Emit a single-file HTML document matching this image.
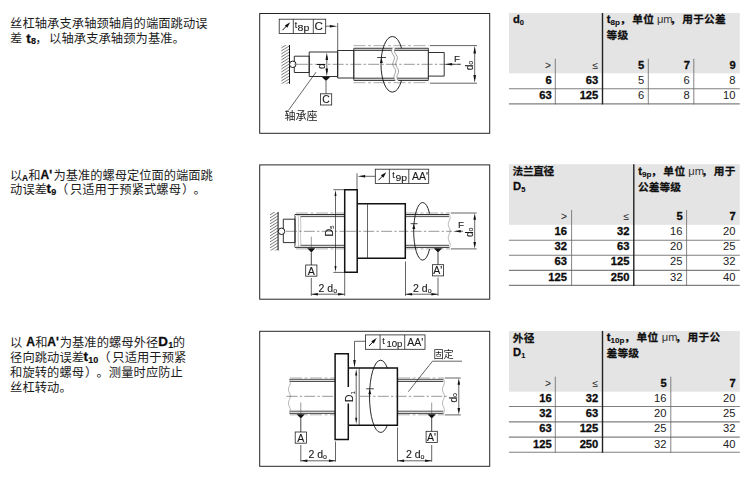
<!DOCTYPE html>
<html lang="zh"><head><meta charset="utf-8"><title>Runout tolerances</title>
<style>
html,body{margin:0;padding:0;background:#fff}
body{width:750px;height:481px;position:relative;overflow:hidden;font-family:"Liberation Sans",sans-serif;color:#1c1c1c}
svg{display:block}
.ln{position:absolute;left:0;width:250px;height:12.25px;white-space:nowrap}
.c{position:absolute;top:.4px;font:12.25px/12.25px "Liberation Sans","Noto Sans CJK SC",sans-serif;color:#1c1c1c;white-space:nowrap;letter-spacing:.1px}
.hb{position:absolute;font:bold 10.7px/10.7px "Liberation Sans","Noto Sans CJK SC",sans-serif;color:#101010;white-space:nowrap;-webkit-text-stroke:.25px #101010}
.lb{position:absolute;top:-1.2px;font:bold 12px/14px "Liberation Sans",sans-serif;color:#0c0c0c;white-space:nowrap;-webkit-text-stroke:.3px #0c0c0c}
.lb b{font-size:13.4px;line-height:0}
.lb sub{font-size:9px;line-height:0;vertical-align:-1.6px;margin-left:.3px;-webkit-text-stroke:.15px #0c0c0c}
.lb sub.sa{font-size:8.4px;vertical-align:-2.2px;margin-left:0}
.tbl{position:absolute;left:0;top:0;width:750px;height:481px}
.r{position:absolute}
.n{position:absolute;font:11.2px/13px "Liberation Sans",sans-serif;color:#222;white-space:nowrap;text-align:right}
.sy{font-size:10.2px}
.nb{font-weight:bold;color:#0c0c0c;-webkit-text-stroke:.3px #0c0c0c}
.th{position:absolute;font:bold 11.2px/13px "Liberation Sans",sans-serif;color:#0c0c0c;white-space:nowrap;-webkit-text-stroke:.3px #0c0c0c}
.th sub.w{font-size:8.1px}
.th sub{font-size:7.5px;line-height:0;vertical-align:-1.7px;-webkit-text-stroke:.1px #0c0c0c}
.tu{position:absolute;font:11.2px/13px "Liberation Sans",sans-serif;color:#333;white-space:nowrap}
.tg{position:absolute;left:0;top:0;width:750px;height:481px}
.dg{position:absolute;left:0;top:0;width:750px;height:481px;overflow:visible;will-change:transform}
.dg text{font-family:"Liberation Sans",sans-serif;fill:#1a1a1a;stroke:#1a1a1a;stroke-width:.12px}
.dg text.cj{font-family:"Liberation Sans","Noto Sans CJK SC",sans-serif;stroke-width:0}
</style></head>
<body>
<div class="ln" style="top:17.76px"><span class="c" style="left:10.05px">丝杠轴承支承轴颈轴肩的端面跳动误</span></div>
<div class="ln" style="top:32.76px"><span class="c" style="left:10.05px">差</span><span class="lb" style="left:26.30px"><b>t</b><sub>8</sub></span><span class="c" style="left:35.34px">，</span><span class="c" style="left:49.10px">以轴承支承轴颈为基准。</span></div>
<div class="ln" style="top:169.16px"><span class="c" style="left:10.05px">以</span><span class="lb" style="left:22.00px"><sub class="sa">A</sub></span><span class="c" style="left:28.35px">和</span><span class="lb" style="left:40.60px">A'</span><span class="c" style="left:53.60px;letter-spacing:0">为基准的螺母定位面的端面跳</span></div>
<div class="ln" style="top:183.66px"><span class="c" style="left:10.05px">动误差</span><span class="lb" style="left:46.40px"><b>t</b><sub>9</sub></span><span class="c" style="left:55.96px">（</span><span class="c" style="left:69.90px">只适用于预紧式螺母</span><span class="c" style="left:181.91px">）</span><span class="c" style="left:193.40px">。</span></div>
<div class="ln" style="top:336.36px"><span class="c" style="left:10.05px">以</span><span class="lb" style="left:26.20px">A</span><span class="c" style="left:35.25px">和</span><span class="lb" style="left:47.30px">A'</span><span class="c" style="left:59.73px;letter-spacing:.07px">为基准的螺母外径</span><span class="lb" style="left:158.20px"><b>D</b><sub>1</sub></span><span class="c" style="left:172.75px">的</span></div>
<div class="ln" style="top:351.46px"><span class="c" style="left:10.05px">径向跳动误差</span><span class="lb" style="left:83.60px"><b>t</b><sub>10</sub></span><span class="c" style="left:98.36px">（</span><span class="c" style="left:112.30px">只适用于预紧</span></div>
<div class="ln" style="top:366.66px"><span class="c" style="left:10.05px">和旋转的螺母</span><span class="c" style="left:85.01px">）</span><span class="c" style="left:96.50px">。测量时应防止</span></div>
<div class="ln" style="top:381.86px"><span class="c" style="left:10.05px">丝杠转动。</span></div>

<svg class="tg" viewBox="0 0 750 481" fill="none"><rect x="508.90" y="13.00" width="230.90" height="60.30" fill="#e4e4e4"/><path d="M508.90 88.80H739.80" stroke="#808080" stroke-width="1.10"/><path d="M508.90 103.90H739.80" stroke="#808080" stroke-width="1.10"/><path d="M555.30 58.70V104.40" stroke="#666" stroke-width="0.80"/><path d="M648.30 58.70V104.40" stroke="#666" stroke-width="0.80"/><path d="M693.80 58.70V104.40" stroke="#666" stroke-width="0.80"/><path d="M602.50 13.00V104.40" stroke="#222" stroke-width="1.40"/><rect x="508.90" y="164.20" width="230.90" height="60.60" fill="#e4e4e4"/><path d="M508.90 240.30H739.80" stroke="#808080" stroke-width="1.10"/><path d="M508.90 255.30H739.80" stroke="#808080" stroke-width="1.10"/><path d="M508.90 270.40H739.80" stroke="#808080" stroke-width="1.10"/><path d="M508.90 285.40H739.80" stroke="#808080" stroke-width="1.10"/><path d="M571.60 210.00V285.90" stroke="#666" stroke-width="0.80"/><path d="M686.60 210.00V285.90" stroke="#666" stroke-width="0.80"/><path d="M633.80 164.20V285.90" stroke="#222" stroke-width="1.40"/><rect x="508.90" y="330.90" width="230.90" height="60.80" fill="#e4e4e4"/><path d="M508.90 406.50H739.80" stroke="#808080" stroke-width="1.10"/><path d="M508.90 421.90H739.80" stroke="#808080" stroke-width="1.10"/><path d="M508.90 437.10H739.80" stroke="#808080" stroke-width="1.10"/><path d="M508.90 452.30H739.80" stroke="#808080" stroke-width="1.10"/><path d="M555.30 376.70V452.80" stroke="#666" stroke-width="0.80"/><path d="M670.80 376.70V452.80" stroke="#666" stroke-width="0.80"/><path d="M602.50 330.90V452.80" stroke="#222" stroke-width="1.40"/></svg>
<div class="tbl"><div class="th" style="left:513.00px;top:12.92px">d<sub>0</sub></div><div class="th" style="left:606.80px;top:12.82px">t<sub class="w">8p</sub></div><span><span class="hb" style="left:619.92px;top:14.2px">，</span><span class="hb" style="left:632.15px;top:14.2px;letter-spacing:.3px">单位</span></span><div class="tu" style="left:656.90px;top:12.82px">μm</div><span><span class="hb" style="left:669.92px;top:14.2px">，</span><span class="hb" style="left:682.15px;top:14.2px;letter-spacing:.3px">用于公差</span></span><span><span class="hb" style="left:606.60px;top:29.5px;letter-spacing:.2px">等级</span></span><div class="n sy" style="right:199.00px;top:58.62px">&gt;</div><div class="n sy" style="right:152.00px;top:58.62px">≤</div><div class="n nb" style="right:105.80px;top:58.62px">5</div><div class="n nb" style="right:60.00px;top:58.62px">7</div><div class="n nb" style="right:14.40px;top:58.62px">9</div><div class="n nb" style="right:198.40px;top:73.62px">6</div><div class="n nb" style="right:151.70px;top:73.62px">63</div><div class="n" style="right:105.90px;top:73.62px">5</div><div class="n" style="right:60.20px;top:73.62px">6</div><div class="n" style="right:14.50px;top:73.62px">8</div><div class="n nb" style="right:198.40px;top:88.62px">63</div><div class="n nb" style="right:151.70px;top:88.62px">125</div><div class="n" style="right:105.90px;top:88.62px">6</div><div class="n" style="right:60.20px;top:88.62px">8</div><div class="n" style="right:14.50px;top:88.62px">10</div></div>
<div class="tbl"><span><span class="hb" style="left:512.58px;top:166.3px;letter-spacing:-.35px">法兰直径</span></span><div class="th" style="left:513.10px;top:179.62px">D<sub>5</sub></div><div class="th" style="left:638.20px;top:164.52px">t<sub class="w">9p</sub></div><span><span class="hb" style="left:650.97px;top:166.2px">，</span><span class="hb" style="left:663.30px;top:166.2px;letter-spacing:.4px">单位</span></span><div class="tu" style="left:688.20px;top:164.52px">μm</div><span><span class="hb" style="left:701.52px;top:166.2px">，</span><span class="hb" style="left:713.75px;top:166.2px;letter-spacing:.3px">用于</span></span><span><span class="hb" style="left:638.09px;top:181.5px">公差等级</span></span><div class="n sy" style="right:183.00px;top:209.62px">&gt;</div><div class="n sy" style="right:120.80px;top:209.62px">≤</div><div class="n nb" style="right:67.40px;top:209.62px">5</div><div class="n nb" style="right:14.40px;top:209.62px">7</div><div class="n nb" style="right:183.00px;top:224.62px">16</div><div class="n nb" style="right:120.60px;top:224.62px">32</div><div class="n" style="right:67.60px;top:224.62px">16</div><div class="n" style="right:14.50px;top:224.62px">20</div><div class="n nb" style="right:183.00px;top:239.62px">32</div><div class="n nb" style="right:120.60px;top:239.62px">63</div><div class="n" style="right:67.60px;top:239.62px">20</div><div class="n" style="right:14.50px;top:239.62px">25</div><div class="n nb" style="right:183.00px;top:254.62px">63</div><div class="n nb" style="right:120.60px;top:254.62px">125</div><div class="n" style="right:67.60px;top:254.62px">25</div><div class="n" style="right:14.50px;top:254.62px">32</div><div class="n nb" style="right:183.00px;top:270.62px">125</div><div class="n nb" style="right:120.60px;top:270.62px">250</div><div class="n" style="right:67.60px;top:270.62px">32</div><div class="n" style="right:14.50px;top:270.62px">40</div></div>
<div class="tbl"><span><span class="hb" style="left:512.85px;top:333.0px;letter-spacing:.2px">外径</span></span><div class="th" style="left:513.10px;top:346.42px">D<sub>1</sub></div><div class="th" style="left:606.80px;top:330.82px">t<sub class="w">10p</sub></div><span><span class="hb" style="left:624.32px;top:332.2px">，</span><span class="hb" style="left:636.55px;top:332.2px;letter-spacing:.3px">单位</span></span><div class="tu" style="left:661.70px;top:330.82px">μm</div><span><span class="hb" style="left:675.32px;top:332.2px">，</span><span class="hb" style="left:687.55px;top:332.2px;letter-spacing:.3px">用于公</span></span><span><span class="hb" style="left:606.60px;top:347.5px;letter-spacing:.2px">差等级</span></span><div class="n sy" style="right:199.00px;top:376.62px">&gt;</div><div class="n sy" style="right:152.00px;top:376.62px">≤</div><div class="n nb" style="right:83.30px;top:376.62px">5</div><div class="n nb" style="right:14.40px;top:376.62px">7</div><div class="n nb" style="right:198.40px;top:391.62px">16</div><div class="n nb" style="right:151.70px;top:391.62px">32</div><div class="n" style="right:83.50px;top:391.62px">16</div><div class="n" style="right:14.50px;top:391.62px">20</div><div class="n nb" style="right:198.40px;top:406.62px">32</div><div class="n nb" style="right:151.70px;top:406.62px">63</div><div class="n" style="right:83.50px;top:406.62px">20</div><div class="n" style="right:14.50px;top:406.62px">25</div><div class="n nb" style="right:198.40px;top:421.62px">63</div><div class="n nb" style="right:151.70px;top:421.62px">125</div><div class="n" style="right:83.50px;top:421.62px">25</div><div class="n" style="right:14.50px;top:421.62px">32</div><div class="n nb" style="right:198.40px;top:437.62px">125</div><div class="n nb" style="right:151.70px;top:437.62px">250</div><div class="n" style="right:83.50px;top:437.62px">32</div><div class="n" style="right:14.50px;top:437.62px">40</div></div>

<svg class="dg" viewBox="0 0 750 481">
<defs><clipPath id="hc1"><rect x="281.2" y="45" width="8.3" height="38.8"/></clipPath><clipPath id="hc2"><rect x="269.8" y="212" width="8.3" height="38.4"/></clipPath></defs>
<rect x="259.7" y="13.5" width="230" height="119.8" fill="none" stroke="#262626" stroke-width="1"/>
<rect x="259.7" y="164.9" width="230" height="134.3" fill="none" stroke="#262626" stroke-width="1"/>
<rect x="259.7" y="331.3" width="230" height="135.0" fill="none" stroke="#262626" stroke-width="1"/>
<g id="d1">
<rect x="279.2" y="19.2" width="46.5" height="14.3" fill="#fff" stroke="#222" stroke-width=".8"/><path d="M293.3 19.2V33.5M313.3 19.2V33.5" stroke="#222" stroke-width=".8" fill="none"/><path d="M282.45 30.25L287.25 25.25" stroke="#111" stroke-width="1" fill="none"/><path d="M290.15 22.25L287.24 27.77L284.78 25.42Z" fill="#111" stroke="none"/><text x="294.8" y="27.8" font-size="8.8">t</text><text x="297.6" y="30.9" font-size="9.3" textLength="11.8" lengthAdjust="spacingAndGlyphs">8p</text><text x="314.6" y="30.0" font-size="11.6">C</text>
<path d="M325.7 26.2H331" stroke="#222" stroke-width=".7" fill="none"/>
<path d="M337.40 26.20L329.80 27.50L329.80 24.90Z" fill="#111" stroke="none"/>
<path d="M337.7 23V51" stroke="#222" stroke-width=".7" fill="none"/>
<path clip-path="url(#hc1)" d="M289.50 39.80L281.20 45.00M289.50 42.80L281.20 48.00M289.50 45.80L281.20 51.00M289.50 48.80L281.20 54.00M289.50 51.80L281.20 57.00M289.50 54.80L281.20 60.00M289.50 57.80L281.20 63.00M289.50 60.80L281.20 66.00M289.50 63.80L281.20 69.00M289.50 66.80L281.20 72.00M289.50 69.80L281.20 75.00M289.50 72.80L281.20 78.00M289.50 75.80L281.20 81.00M289.50 78.80L281.20 84.00M289.50 81.80L281.20 87.00M289.50 84.80L281.20 90.00M289.50 87.80L281.20 93.00" stroke="#222" stroke-width=".6" fill="none"/>
<path d="M289.5 45V83.8" stroke="#111" stroke-width="1" fill="none"/>
<path d="M353.5 45.6H428.5M353.5 82.7H428.5" stroke="#777" stroke-width=".6" fill="none" stroke-dasharray="12 2.5 3 2.5"/>
<path d="M294.3 56.2H309.2V72.5H294.3Z" stroke="#1a1a1a" stroke-width=".9" fill="none"/>
<path d="M309.2 52H337.7V76.5H309.2Z" stroke="#1a1a1a" stroke-width=".9" fill="none"/>
<path d="M337.7 50.5H353.9V78H337.7Z" stroke="#1a1a1a" stroke-width=".9" fill="none"/>
<path d="M353.9 48.3H428.3V80.3H353.9Z" fill="#fff" stroke="#151515" stroke-width="1"/>
<path d="M353.9 49.3H428.3M353.9 79.3H428.3" stroke="#c8c8c8" stroke-width="1.1" fill="none"/>
<path d="M353.9 50.4H428.3M353.9 78.2H428.3" stroke="#1a1a1a" stroke-width=".85" fill="none"/>
<path d="M428.3 52.5H444.2V76.1H428.3" stroke="#1a1a1a" stroke-width=".9" fill="none"/>
<path d="M392.40 47.40C391.10 49.63 391.30 51.86 393.00 54.16C394.70 56.39 394.90 58.62 393.60 60.92C392.30 63.15 392.50 65.38 394.20 67.68C395.90 69.91 396.10 72.14 394.80 74.44C393.50 76.67 393.70 78.90 395.40 81.20L398.40 81.20C396.69 78.90 396.48 76.67 397.78 74.44C399.07 72.14 398.86 69.91 397.16 67.68C395.45 65.38 395.24 63.15 396.54 60.92C397.83 58.62 397.62 56.39 395.92 54.16C394.21 51.86 394.00 49.63 395.30 47.40Z" fill="#fff" stroke="none"/>
<path d="M392.40 48.00C391.10 50.15 391.30 52.30 393.00 54.52C394.70 56.67 394.90 58.82 393.60 61.04C392.30 63.19 392.50 65.34 394.20 67.56C395.90 69.71 396.10 71.86 394.80 74.08C393.50 76.23 393.70 78.38 395.40 80.60M395.30 48.00C394.00 50.15 394.21 52.30 395.92 54.52C397.62 56.67 397.83 58.82 396.54 61.04C395.24 63.19 395.45 65.34 397.16 67.56C398.86 69.71 399.07 71.86 397.78 74.08C396.48 76.23 396.69 78.38 398.40 80.60" stroke="#7a7a7a" stroke-width=".7" fill="none"/>
<path d="M297 64.3H461" stroke="#444" stroke-width=".55" fill="none" stroke-dasharray="11 2.2 2.4 2.2"/>
<circle cx="292.8" cy="64.3" r="3.25" fill="#fff" stroke="#111" stroke-width=".95"/>
<path d="M294 64.3H296.2" stroke="#444" stroke-width=".55"/>
<path d="M392.3 36.5A11.3 27.8 0 0 1 401.6 48.4M401.6 80.2A11.3 27.8 0 0 1 392.3 92.1" stroke="#111" stroke-width=".9" fill="none"/>
<path d="M392.3 92.1A11.3 27.8 0 0 1 392.3 36.5" stroke="#111" stroke-width=".9" fill="none"/>
<path d="M377.2 57.5H386" stroke="#111" stroke-width=".8"/>
<path d="M381.40 57.90L382.85 62.90L379.95 62.90Z" fill="#111" stroke="none"/>
<path d="M326.8 56V72" stroke="#222" stroke-width=".7" fill="none"/>
<path d="M326.80 52.40L328.10 60.00L325.50 60.00Z" fill="#111" stroke="none"/>
<path d="M326.80 76.20L325.50 68.60L328.10 68.60Z" fill="#111" stroke="none"/>
<text transform="translate(325 69) rotate(-90)" font-size="10">d</text>
<path d="M321.9 76.9H330.1L326 81.1Z" fill="#111"/>
<path d="M326 81V93.8" stroke="#222" stroke-width=".7" fill="none"/>
<rect x="320.5" y="93.8" width="11.2" height="11.2" fill="#fff" stroke="#222" stroke-width=".8"/>
<text x="322.3" y="103.4" font-size="10.4">C</text>
<path d="M316 72.2L288.3 110.5" stroke="#222" stroke-width=".7" fill="none"/>
<text class="cj" x="284.6" y="120.3" font-size="11" letter-spacing="-0.1">轴承座</text>
<path d="M452 64.3H460.5" stroke="#222" stroke-width=".7" fill="none"/>
<path d="M444.60 64.30L452.20 63.00L452.20 65.60Z" fill="#111" stroke="none"/>
<text x="453.9" y="61.9" font-size="9.8">F</text>
<path d="M430 45.6H477M430 83.2H477M474.7 50V79" stroke="#222" stroke-width=".7" fill="none"/>
<path d="M474.70 45.80L476.00 53.40L473.40 53.40Z" fill="#111" stroke="none"/>
<path d="M474.70 82.70L473.40 75.10L476.00 75.10Z" fill="#111" stroke="none"/>
<text transform="translate(472.5 70.2) rotate(-90)" font-size="10">d<tspan font-size="7.2" dy="0.8">o</tspan></text>
</g>
<g id="d2">
<rect x="375.3" y="169.2" width="53.4" height="14.2" fill="#fff" stroke="#222" stroke-width=".8"/><path d="M389.4 169.2V183.4M408.8 169.2V183.4" stroke="#222" stroke-width=".8" fill="none"/><path d="M378.55 180.20L383.35 175.20" stroke="#111" stroke-width="1" fill="none"/><path d="M386.25 172.20L383.34 177.72L380.88 175.37Z" fill="#111" stroke="none"/><text x="392.3" y="177.8" font-size="8.8">t</text><text x="395.6" y="180.9" font-size="9.3" textLength="11.5" lengthAdjust="spacingAndGlyphs">9p</text><text x="412.0" y="180.0" font-size="10.5">AA'</text>
<path d="M375.3 176.3H364" stroke="#222" stroke-width=".7" fill="none"/>
<path d="M357.50 176.30L365.10 175.00L365.10 177.60Z" fill="#111" stroke="none"/>
<path d="M357 173.3V189.7" stroke="#222" stroke-width=".7" fill="none"/>
<path clip-path="url(#hc2)" d="M278.10 206.80L269.80 212.00M278.10 209.80L269.80 215.00M278.10 212.80L269.80 218.00M278.10 215.80L269.80 221.00M278.10 218.80L269.80 224.00M278.10 221.80L269.80 227.00M278.10 224.80L269.80 230.00M278.10 227.80L269.80 233.00M278.10 230.80L269.80 236.00M278.10 233.80L269.80 239.00M278.10 236.80L269.80 242.00M278.10 239.80L269.80 245.00M278.10 242.80L269.80 248.00M278.10 245.80L269.80 251.00M278.10 248.80L269.80 254.00M278.10 251.80L269.80 257.00M278.10 254.80L269.80 260.00" stroke="#222" stroke-width=".6" fill="none"/>
<path d="M278.1 212V250.4" stroke="#111" stroke-width="1" fill="none"/>
<path d="M296 213H344M406 213H450M296 248.9H344M406 248.9H450" stroke="#777" stroke-width=".6" fill="none" stroke-dasharray="12 2.5 3 2.5"/>
<path d="M283.3 219.2H295V242.6H283.3Z" stroke="#1a1a1a" stroke-width=".9" fill="none"/>
<path d="M295 214.5H344.7M295 247.4H344.7M295 214.5V247.4M405.5 214.5H449M405.5 247.4H449" fill="none" stroke="#1a1a1a" stroke-width=".9"/>
<path d="M295 215.5H344.7M295 246.4H344.7M405.5 215.5H449M405.5 246.4H449" stroke="#dcdcdc" stroke-width="1.1" fill="none"/>
<path d="M300.5 216.6H344.7M300.5 245.3H344.7M405.5 216.6H449M405.5 245.3H449" stroke="#222" stroke-width=".8" fill="none"/>
<path d="M298.2 215C299.2 226 297.6 236 298.6 247M300.4 216C301.6 226 299.8 236 301 246" stroke="#999" stroke-width=".55" fill="none"/>
<path d="M449.20 214.00C450.48 216.24 450.48 218.49 449.20 220.80C447.92 223.04 447.92 225.29 449.20 227.60C450.48 229.84 450.48 232.09 449.20 234.40C447.92 236.64 447.92 238.89 449.20 241.20C450.48 243.44 450.48 245.69 449.20 248.00" stroke="#888" stroke-width="0.60" fill="none"/>
<path d="M286 231.3H452" stroke="#444" stroke-width=".55" fill="none" stroke-dasharray="11 2.2 2.4 2.2"/>
<circle cx="281.5" cy="231.3" r="3.25" fill="#fff" stroke="#111" stroke-width=".95"/>
<path d="M357 203.7H405.3V258.3H357" fill="#fff" stroke="#111" stroke-width="1.5" />
<path d="M344.7 189.7H357.2V272.2H344.7Z" fill="#fff" stroke="#111" stroke-width="1.5" />
<path d="M367.5 203.7V258.3" stroke="#222" stroke-width=".7" fill="none"/>
<path d="M345.5 231.3H405" stroke="#444" stroke-width=".55" fill="none" stroke-dasharray="11 2.2 2.4 2.2"/>
<path d="M333.4 189.7H344.7M333.4 272.4H344.7M335.5 194V268" stroke="#222" stroke-width=".7" fill="none"/>
<path d="M335.50 190.00L336.50 196.00L334.50 196.00Z" fill="#111" stroke="none"/>
<path d="M335.50 272.10L334.50 266.10L336.50 266.10Z" fill="#111" stroke="none"/>
<text transform="translate(332.5 236.5) rotate(-90)" font-size="10.6">D<tspan font-size="5.8" dy="1.5">5</tspan></text>
<path d="M422.6 202.5A8.9 28.8 0 0 1 429.6 213.6M429.6 249A8.9 28.8 0 0 1 422.6 260.1" stroke="#111" stroke-width=".9" fill="none"/>
<path d="M422.6 260.1A8.9 28.8 0 0 1 422.6 202.5" stroke="#111" stroke-width=".9" fill="none"/>
<path d="M410.6 223.7H417.6" stroke="#111" stroke-width=".8"/>
<path d="M413.80 224.10L415.25 229.10L412.35 229.10Z" fill="#111" stroke="none"/>
<path d="M460 231.3H463" stroke="#222" stroke-width=".7" fill="none"/>
<path d="M453.20 231.30L460.80 230.00L460.80 232.60Z" fill="#111" stroke="none"/>
<text x="458.1" y="227.7" font-size="9.8">F</text>
<path d="M450.8 213H476.7M450.8 248.9H476.7M474.7 217V245" stroke="#222" stroke-width=".7" fill="none"/>
<path d="M474.70 213.30L476.00 219.80L473.40 219.80Z" fill="#111" stroke="none"/>
<path d="M474.70 248.60L473.40 242.10L476.00 242.10Z" fill="#111" stroke="none"/>
<text transform="translate(472.6 237.0) rotate(-90)" font-size="10">d<tspan font-size="7.2" dy="0.8">o</tspan></text>
<path d="M311.3 236.7V248.3" stroke="#444" stroke-width=".55" fill="none"/><path d="M307.2 248.3H315.4L311.3 252.5Z" fill="#111"/><path d="M311.3 252.3V265.0" stroke="#444" stroke-width="1" fill="none"/><rect x="305.7" y="265.0" width="11.2" height="11.2" fill="#fff" stroke="#222" stroke-width=".8"/><text x="307.7" y="274.6" font-size="10.6">A</text>
<path d="M433.9 248.3H442.1L438.0 252.5Z" fill="#111"/><path d="M438.0 252.3V264.7" stroke="#444" stroke-width="1" fill="none"/><rect x="432.4" y="264.7" width="11.2" height="11.2" fill="#fff" stroke="#222" stroke-width=".8"/><text x="433.3" y="274.3" font-size="10.5">A'</text>
<path d="M311.3 278V295.8M344.7 273V295.8M311.3 294.2H344.7" stroke="#222" stroke-width=".7" fill="none"/>
<path d="M311.40 294.20L317.90 292.90L317.90 295.50Z" fill="#111" stroke="none"/>
<path d="M344.60 294.20L338.10 295.50L338.10 292.90Z" fill="#111" stroke="none"/>
<text x="318.6" y="291.8" font-size="10.5">2 d<tspan font-size="7" dy="0.7">o</tspan></text>
<path d="M438 277.5V295.8M405.5 261.5V295.8M405.5 294.2H438" stroke="#222" stroke-width=".7" fill="none"/>
<path d="M405.60 294.20L412.10 292.90L412.10 295.50Z" fill="#111" stroke="none"/>
<path d="M437.90 294.20L431.40 295.50L431.40 292.90Z" fill="#111" stroke="none"/>
<text x="413.1" y="291.8" font-size="10.5">2 d<tspan font-size="7" dy="0.7">o</tspan></text>
</g>
<g id="d3">
<rect x="365.5" y="334.9" width="59.5" height="14.4" fill="#fff" stroke="#222" stroke-width=".8"/><path d="M380.1 334.9V349.3M404.7 334.9V349.3" stroke="#222" stroke-width=".8" fill="none"/><path d="M369.00 346.00L373.80 341.00" stroke="#111" stroke-width="1" fill="none"/><path d="M376.70 338.00L373.79 343.52L371.33 341.17Z" fill="#111" stroke="none"/><text x="382.3" y="343.5" font-size="8.8">t</text><text x="386.4" y="346.6" font-size="9.3" textLength="16.0" lengthAdjust="spacingAndGlyphs">10p</text><text x="407.2" y="345.7" font-size="10.5">AA'</text>
<path d="M365.5 341.3H354.5V361" stroke="#222" stroke-width=".7" fill="none"/>
<path d="M354.50 367.70L353.20 360.10L355.80 360.10Z" fill="#111" stroke="none"/>
<path d="M290 378H335M398 378H444M290 414.8H335M398 414.8H444" stroke="#777" stroke-width=".6" fill="none" stroke-dasharray="12 2.5 3 2.5"/>
<path d="M289.5 379.4H335.5M289.5 413.3H335.5M397.5 379.4H443.3M397.5 413.3H443.3" fill="none" stroke="#1a1a1a" stroke-width=".9"/>
<path d="M289.5 380.4H335.5M289.5 412.3H335.5M397.5 380.4H443.3M397.5 412.3H443.3" stroke="#dcdcdc" stroke-width="1.1" fill="none"/>
<path d="M289.5 381.5H335.5M289.5 411.2H335.5M397.5 381.5H443.3M397.5 411.2H443.3" stroke="#222" stroke-width=".8" fill="none"/>
<path d="M289.40 379.00C290.68 381.28 290.68 383.57 289.40 385.92C288.12 388.20 288.12 390.49 289.40 392.84C290.68 395.12 290.68 397.41 289.40 399.76C288.12 402.04 288.12 404.33 289.40 406.68C290.68 408.96 290.68 411.25 289.40 413.60" stroke="#888" stroke-width="0.60" fill="none"/>
<path d="M443.40 379.00C444.68 381.28 444.68 383.57 443.40 385.92C442.12 388.20 442.12 390.49 443.40 392.84C444.68 395.12 444.68 397.41 443.40 399.76C442.12 402.04 442.12 404.33 443.40 406.68C444.68 408.96 444.68 411.25 443.40 413.60" stroke="#888" stroke-width="0.60" fill="none"/>
<path d="M335.1 353.8H348.3V439.4H335.1Z" fill="#fff" stroke="none"/>
<path d="M348.3 368H397.4V425.2H348.3" fill="#fff" stroke="#111" stroke-width="1.5" />
<path d="M348.3 368V353.8H335.1V439.4H348.3V425.2" stroke="#111" stroke-width="1.5" fill="none"/>
<path d="M348.3 368V387M348.3 403.5V425.2" stroke="#111" stroke-width="1.5" fill="none"/>
<path d="M359.2 368.3V425" stroke="#222" stroke-width=".7" fill="none"/>
<path d="M286.5 396.3H334.5M360 396.3H447" stroke="#444" stroke-width=".55" fill="none" stroke-dasharray="11 2.2 2.4 2.2"/>
<path d="M356.2 373V420" stroke="#222" stroke-width=".7" fill="none"/>
<path d="M356.20 369.10L357.20 375.60L355.20 375.60Z" fill="#111" stroke="none"/>
<path d="M356.20 424.30L355.20 417.80L357.20 417.80Z" fill="#111" stroke="none"/>
<text transform="translate(353.3 402) rotate(-90)" font-size="10.4">D<tspan font-size="5.8" dy="1.5">1</tspan></text>
<path d="M380.5 360.2A11 36.1 0 0 1 387.5 368.4M387.5 424.9A11 36.1 0 0 1 380.5 432.4" stroke="#111" stroke-width=".9" fill="none"/>
<path d="M380.5 432.4A11 36.1 0 0 1 380.5 360.2" stroke="#111" stroke-width=".9" fill="none"/>
<path d="M366.2 388.8H373.8" stroke="#111" stroke-width=".8"/>
<path d="M369.80 389.20L371.25 394.20L368.35 394.20Z" fill="#111" stroke="none"/>
<text class="cj" x="433.4" y="357.6" font-size="10.2" letter-spacing="-0.1">固定</text>
<path d="M462 361.2H432.5L408.3 391.7" stroke="#222" stroke-width=".7" fill="none"/>
<path d="M444.7 378H460.8M444.7 414.9H460.8M458.8 382V411" stroke="#222" stroke-width=".7" fill="none"/>
<path d="M458.80 378.30L460.10 384.80L457.50 384.80Z" fill="#111" stroke="none"/>
<path d="M458.80 414.60L457.50 408.10L460.10 408.10Z" fill="#111" stroke="none"/>
<text transform="translate(456.6 402.6) rotate(-90)" font-size="10">d<tspan font-size="7.2" dy="0.8">o</tspan></text>
<path d="M300.8 402.5V414.2" stroke="#444" stroke-width=".55" fill="none"/><path d="M296.7 414.2H304.9L300.8 418.4Z" fill="#111"/><path d="M300.8 418.2V432.0" stroke="#444" stroke-width="1" fill="none"/><rect x="295.2" y="432.0" width="11.2" height="11.2" fill="#fff" stroke="#222" stroke-width=".8"/><text x="297.2" y="441.6" font-size="10.6">A</text>
<path d="M431.7 402.5V414.2" stroke="#444" stroke-width=".55" fill="none"/><path d="M427.6 414.2H435.8L431.7 418.4Z" fill="#111"/><path d="M431.7 418.2V431.3" stroke="#444" stroke-width="1" fill="none"/><rect x="426.1" y="431.3" width="11.2" height="11.2" fill="#fff" stroke="#222" stroke-width=".8"/><text x="427.0" y="440.9" font-size="10.5">A'</text>
<path d="M300.8 445V461.7M335.5 441.5V461.7M300.8 460.8H335.5" stroke="#222" stroke-width=".7" fill="none"/>
<path d="M300.90 460.80L307.40 459.50L307.40 462.10Z" fill="#111" stroke="none"/>
<path d="M335.40 460.80L328.90 462.10L328.90 459.50Z" fill="#111" stroke="none"/>
<text x="308.5" y="458.4" font-size="10.5">2 d<tspan font-size="7" dy="0.7">o</tspan></text>
<path d="M431.7 445V461.7M397.5 427.5V461.7M397.5 460.8H431.7" stroke="#222" stroke-width=".7" fill="none"/>
<path d="M397.60 460.80L404.10 459.50L404.10 462.10Z" fill="#111" stroke="none"/>
<path d="M431.60 460.80L425.10 462.10L425.10 459.50Z" fill="#111" stroke="none"/>
<text x="406.0" y="458.4" font-size="10.5">2 d<tspan font-size="7" dy="0.7">o</tspan></text>
</g>
</svg>
</body></html>
